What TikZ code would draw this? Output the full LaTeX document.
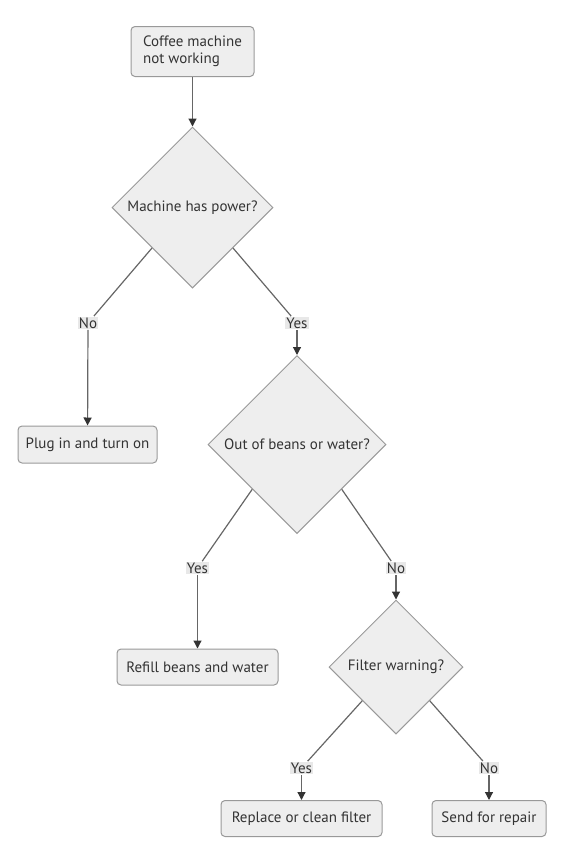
\documentclass[tikz,border=0pt]{standalone}
\usepackage{fontspec}
\setmainfont{PT Sans}
\usetikzlibrary{shapes.geometric,arrows.meta}

\definecolor{boxfill}{HTML}{EEEEEE}
\definecolor{boxline}{HTML}{999999}
\definecolor{edgeline}{HTML}{666666}
\definecolor{tipdark}{HTML}{333333}
\definecolor{labelbg}{HTML}{E8E8E8}
\definecolor{txt}{HTML}{333333}

\tikzset{every picture/.style={line width=1pt}}
\tikzset{
  stepbox/.style={draw=boxline,fill=boxfill,rounded corners=4pt,inner sep=0pt,text=txt,font=\fontsize{15}{17}\selectfont},
  choice/.style={diamond,aspect=1,draw=boxline,fill=boxfill,inner sep=0pt,text=txt,font=\fontsize{15}{17}\selectfont},
  edgelabel/.style={fill=labelbg,inner sep=1pt,text=txt,font=\fontsize{15}{17}\selectfont},
  link/.style={draw=edgeline,line width=1.2pt},
  flow/.style={link,-{Triangle[length=8pt,width=8pt,color=tipdark]}}
}

\begin{document}
\begin{tikzpicture}[x=1pt,y=1pt,yscale=-1,xscale=1]
        \useasboundingbox (0,0) rectangle (574,857);

        % Boxes
        \node [stepbox,minimum width=123,minimum height=50,align=left] (start) at (192.5,51.5) {Coffee machine\\not working};
        \node [stepbox,minimum width=139,minimum height=37] (plug) at (87.5,444.5) {Plug in and turn on};
        \node [stepbox,minimum width=161,minimum height=36] (refill) at (197.5,667) {Refill beans and water};
        \node [stepbox,minimum width=161,minimum height=36] (replace) at (301.5,818.5) {Replace or clean filter};
        \node [stepbox,minimum width=114,minimum height=36] (repair) at (489,818.5) {Send for repair};

        % Decisions
        \node [choice,minimum size=161] (power) at (192.5,207.5) {Machine has power?};
        \node [choice,minimum size=178] (beans) at (297,444.5) {Out of beans or water?};
        \node [choice,minimum size=134] (filter) at (396,667) {Filter warning?};

        % Edge labels
        \node [edgelabel] (noPower) at (88,323) {No};
        \node [edgelabel] (yesPower) at (297,323) {Yes};
        \node [edgelabel] (yesBeans) at (197.5,568) {Yes};
        \node [edgelabel] (noBeans) at (396,568) {No};
        \node [edgelabel] (yesFilter) at (301.5,768) {Yes};
        \node [edgelabel] (noFilter) at (489,768) {No};

        % Connectors
        \draw [flow] (start) -- (power);
        \draw [link] (power.south west) -- (noPower);
        \draw [flow] (noPower) -- (plug);
        \draw [link] (power.south east) -- (yesPower);
        \draw [flow] (yesPower) -- (beans);
        \draw [link] (beans.south west) -- (yesBeans);
        \draw [flow] (yesBeans) -- (refill);
        \draw [link] (beans.south east) -- (noBeans);
        \draw [flow] (noBeans) -- (filter);
        \draw [link] (filter.south west) -- (yesFilter);
        \draw [flow] (yesFilter) -- (replace);
        \draw [link] (filter.south east) -- (noFilter);
        \draw [flow] (noFilter) -- (repair);

    \end{tikzpicture}
\end{document}
